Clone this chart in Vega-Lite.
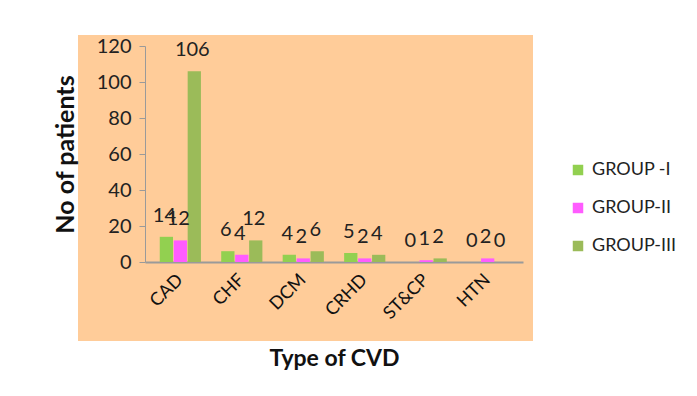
{
  "$schema": "https://vega.github.io/schema/vega-lite/v6.json",
  "width": 455,
  "height": 306,
  "autosize": {"type": "none"},
  "padding": {"left": 78, "top": 35, "right": 164, "bottom": 55},
  "background": "white",
  "config": {
    "view": {"fill": "#FFCC99", "stroke": null},
    "font": "Lato"
  },
  "data": {
    "values": [
      {"type": "CAD", "group": "GROUP -I", "n": 14},
      {"type": "CAD", "group": "GROUP-II", "n": 12},
      {"type": "CAD", "group": "GROUP-III", "n": 106},
      {"type": "CHF", "group": "GROUP -I", "n": 6},
      {"type": "CHF", "group": "GROUP-II", "n": 4},
      {"type": "CHF", "group": "GROUP-III", "n": 12},
      {"type": "DCM", "group": "GROUP -I", "n": 4},
      {"type": "DCM", "group": "GROUP-II", "n": 2},
      {"type": "DCM", "group": "GROUP-III", "n": 6},
      {"type": "CRHD", "group": "GROUP -I", "n": 5},
      {"type": "CRHD", "group": "GROUP-II", "n": 2},
      {"type": "CRHD", "group": "GROUP-III", "n": 4},
      {"type": "ST&CP", "group": "GROUP -I", "n": 0},
      {"type": "ST&CP", "group": "GROUP-II", "n": 1},
      {"type": "ST&CP", "group": "GROUP-III", "n": 2},
      {"type": "HTN", "group": "GROUP -I", "n": 0},
      {"type": "HTN", "group": "GROUP-II", "n": 2},
      {"type": "HTN", "group": "GROUP-III", "n": 0}
    ]
  },
  "encoding": {
    "x": {
      "field": "type",
      "type": "nominal",
      "sort": ["CAD", "CHF", "DCM", "CRHD", "ST&CP", "HTN"],
      "scale": {"range": [67, 445], "paddingInner": 0.33, "paddingOuter": 0.24},
      "title": "Type of CVD",
      "axis": {
        "offset": -79,
        "domainColor": "#9a9a9a",
        "domainWidth": 2,
        "ticks": false,
        "labelAngle": -45,
        "labelAlign": "right",
        "labelBaseline": "middle",
        "labelFontSize": 18,
        "labelColor": "#111111",
        "labelPadding": 15,
        "titleFontSize": 23,
        "titleFontWeight": "bold",
        "titleColor": "#111111",
        "titleBaseline": "middle",
        "titleY": 96
      }
    },
    "xOffset": {
      "field": "group",
      "type": "nominal",
      "scale": {"paddingInner": 0.05}
    },
    "y": {
      "field": "n",
      "type": "quantitative",
      "scale": {"domain": [0, 120], "range": [227, 11], "nice": false},
      "title": "No of patients",
      "axis": {
        "offset": -67,
        "values": [0, 20, 40, 60, 80, 100, 120],
        "grid": false,
        "domainColor": "#9a9a9a",
        "tickColor": "#9a9a9a",
        "tickSize": 6,
        "labelFontSize": 20,
        "labelColor": "#222222",
        "labelPadding": 8,
        "titleFontSize": 25,
        "titleFontWeight": "bold",
        "titleColor": "#111111",
        "titlePadding": 18
      }
    }
  },
  "layer": [
    {
      "mark": {"type": "bar"},
      "encoding": {
        "color": {
          "field": "group",
          "type": "nominal",
          "scale": {
            "domain": ["GROUP -I", "GROUP-II", "GROUP-III"],
            "range": ["#92D050", "#FF5CFF", "#9BBB59"]
          },
          "legend": {
            "title": null,
            "orient": "none",
            "legendX": 491,
            "legendY": 126,
            "symbolType": "square",
            "symbolSize": 110,
            "symbolStrokeWidth": 0,
            "labelFontSize": 18,
            "labelColor": "#222222",
            "rowPadding": 20,
            "labelOffset": 5
          }
        }
      }
    },
    {
      "mark": {"type": "text", "dy": -21, "dx": -2, "fontSize": 20, "color": "#222222"},
      "encoding": {
        "text": {"field": "n", "type": "quantitative"}
      }
    }
  ]
}
